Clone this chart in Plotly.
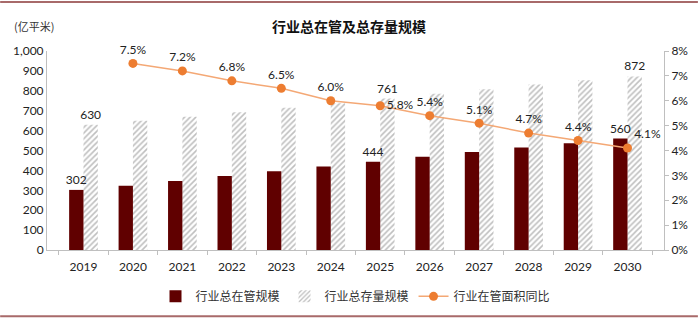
import plotly.graph_objects as go

years = ["2019", "2020", "2021", "2022", "2023", "2024", "2025", "2026", "2027", "2028", "2029", "2030"]
managed = [302, 323, 347, 372, 396, 420, 444, 468, 492, 515, 537, 560]
stock = [630, 650, 670, 692, 715, 738, 761, 785, 808, 832, 853, 872]
growth = [None, 7.5, 7.2, 6.8, 6.5, 6.0, 5.8, 5.4, 5.1, 4.7, 4.4, 4.1]
label_years = {"2019", "2025", "2030"}

names = ["行业总在管规模", "行业总存量规模", "行业在管面积同比"]
title = "行业总在管及总存量规模"
unit = "(亿平米)"

W, H = 700, 323
L, R, T, B = 47, 34, 51, 69
BW = 0.29

num_font = "Lato, Open Sans, sans-serif"
cjk_font = "Noto Sans CJK SC, sans-serif"

fig = go.Figure()
fig.add_trace(go.Bar(
    x=years, y=stock, name=names[1], legendrank=2,
    width=BW, offset=0.0,
    marker=dict(color="white", line=dict(width=0),
                pattern=dict(shape="/", fgcolor="#808080", bgcolor="white", size=4, solidity=0.4)),
    text=[str(v) if y in label_years else "" for y, v in zip(years, stock)],
    textposition="outside", cliponaxis=False, constraintext="none",
    textfont=dict(size=12, color="#222222", family=num_font),
))
fig.add_trace(go.Bar(
    x=years, y=managed, name=names[0], legendrank=1,
    width=BW, offset=-BW,
    marker=dict(color="#600000", line=dict(width=0)),
    text=[str(v) if y in label_years else "" for y, v in zip(years, managed)],
    textposition="outside", cliponaxis=False, constraintext="none",
    textfont=dict(size=12, color="#222222", family=num_font),
))
pos = ["top center"] * len(years)
pos[6] = "middle right"
pos[11] = "top right"
fig.add_trace(go.Scatter(
    x=years, y=growth, name=names[2], yaxis="y2", mode="lines+markers+text", legendrank=3,
    line=dict(color="#F4A875", width=1.5),
    marker=dict(color="#ED7D31", size=9),
    text=[("%.1f%%" % g) if g is not None else "" for g in growth],
    textposition=pos, cliponaxis=False,
    textfont=dict(size=12, color="#222222", family=num_font),
))

fig.update_layout(
    width=W, height=H, margin=dict(l=L, r=R, t=T, b=B),
    paper_bgcolor="white", plot_bgcolor="white",
    barmode="overlay",
    showlegend=True,
    legend=dict(orientation="h", x=0.5, xanchor="center", y=-0.16, yanchor="top",
                font=dict(size=12, family=cjk_font, color="#333333"),
                itemwidth=30, tracegroupgap=0, traceorder="normal"),
    xaxis=dict(type="category", showgrid=False, showline=True, linecolor="#bfbfbf",
               ticks="outside", ticklen=4, tickcolor="#bfbfbf", tickson="boundaries",
               ticklabelstandoff=6,
               tickfont=dict(size=12, family=num_font, color="#222222")),
    yaxis=dict(range=[0, 1000], dtick=100, tickformat=",", showgrid=False,
               showline=True, linecolor="#bfbfbf", zeroline=False,
               tickfont=dict(size=12, family=num_font, color="#222222")),
    yaxis2=dict(range=[0, 8], dtick=1, ticksuffix="%", overlaying="y", side="right",
                showgrid=False, showline=True, linecolor="#bfbfbf", zeroline=False,
                ticks="outside", ticklen=4, tickcolor="#bfbfbf",
                tickfont=dict(size=12, family=num_font, color="#222222")),
    annotations=[
        dict(text="<b>" + title + "</b>", xref="paper", yref="paper", x=(350 - L) / (W - L - R),
             y=1 + (T - 26) / (H - T - B), xanchor="center", yanchor="middle",
             showarrow=False, font=dict(size=14, family=cjk_font, color="#111111")),
        dict(text=unit, xref="paper", yref="paper", x=(12 - L) / (W - L - R),
             y=1 + (T - 25) / (H - T - B), xanchor="left", yanchor="middle",
             showarrow=False, font=dict(size=11, family=cjk_font, color="#333333")),
    ],
)

ph = H - T - B
pw = W - L - R
for py in (1, 321.5):
    yy = 1 + (T - py) / ph
    fig.add_shape(type="line", xref="paper", yref="paper",
                  x0=-L / pw, x1=1 + R / pw, y0=yy, y1=yy,
                  line=dict(color="#A86A6A", width=2))

fig.write_html("out.html")
